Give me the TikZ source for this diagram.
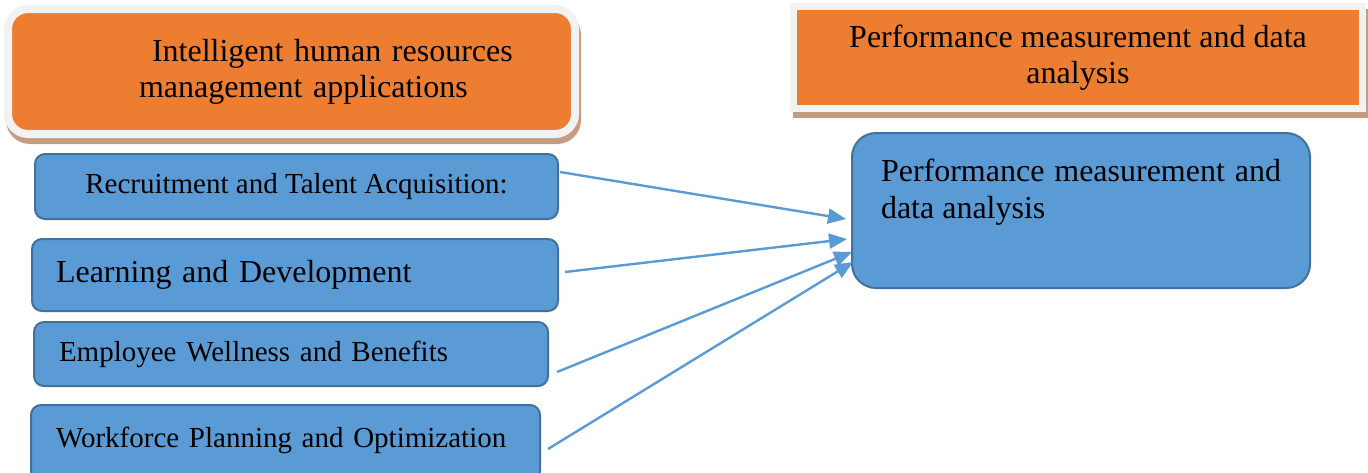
\documentclass[tikz,border=0pt]{standalone}
\usepackage{fontspec}
\setmainfont{Liberation Serif}
\usetikzlibrary{positioning,arrows.meta}
\definecolor{hrorange}{HTML}{ED7D31}
\definecolor{hrblue}{HTML}{5B9BD5}
\definecolor{hrblueline}{HTML}{41719C}
\definecolor{framegray}{HTML}{F2F2F2}
\definecolor{shadowbrown}{HTML}{C49C82}

\begin{document}
\begin{tikzpicture}[x=0.5pt, y=-0.5pt,
% Header styles
		headround/.style={rectangle
							    , rounded corners=10pt
							    , fill=hrorange
							    , draw=framegray, line width=4pt
							    , outer sep=0pt
							    , preaction={draw=shadowbrown, fill=shadowbrown, transform canvas={shift={(1pt,-3pt)}}}
							    , font=\fontsize{16}{18}\selectfont
							    , anchor=north west},
		headsquare/.style={rectangle
							    , fill=hrorange
							    , draw=framegray, line width=3.5pt
							    , outer sep=0pt
							    , preaction={draw=shadowbrown, fill=shadowbrown, transform canvas={shift={(1.5pt,-3pt)}}}
							    , font=\fontsize{16}{18}\selectfont
							    , align=center
							    , anchor=north west},
% Item style
		item/.style={rectangle
							    , rounded corners=5pt
							    , fill=hrblue
							    , draw=hrblueline, line width=1pt
							    , outer sep=0pt
							    , anchor=north west},
		small/.style={font=\fontsize{14.5}{17}\selectfont},
		large/.style={font=\fontsize{16}{18.5}\selectfont},
% Connector style
		links/.style = {draw=hrblue
			       			, line width=1.2pt
			       			, >={Triangle[length=9pt,width=7.5pt]}}
	]
	\useasboundingbox (0,0) rectangle (1368,472);
	\clip (0,0) rectangle (1368,472);
%% Draw headers
	\node (h1) [headround, minimum width=283.5pt, minimum height=62.5pt
	            , text width=283.5pt, inner xsep=0pt, align=left] at (8,9)
	      {\hspace*{72pt}Intelligent human resources\\\hspace*{65.5pt}management applications};
	\node (h2) [headsquare, minimum width=284.5pt, minimum height=51pt] at (793.5,6.5)
	      {Performance measurement and data\\analysis};
%% Draw items
	\node (c1) [item, small, minimum width=261.5pt, minimum height=32.5pt] at (35,154)
	      {Recruitment and Talent Acquisition:};
	\node (c2) [item, large, text width=239pt, inner xsep=12pt, align=left, minimum height=36pt] at (32,239)
	      {Learning and Development};
	\node (c3) [item, small, text width=232pt, inner xsep=12.5pt, align=left, minimum height=32pt] at (34,322)
	      {Employee Wellness and Benefits};
	\node (c4) [item, small, text width=229.5pt, inner xsep=12.5pt, align=left, minimum height=38pt
	            , text height=11pt, text depth=7pt] at (31,405)
	      {Workforce Planning and Optimization};
	\node (r1) [item, large, rounded corners=12pt, text width=200pt, inner xsep=14.5pt, inner ysep=10pt
	            , text height=14pt, text depth=43.5pt, align=justify] at (852,133)
	      {Performance measurement and data analysis};
%% Draw connectors
	\begin{scope}[links]
		\draw [->] ([shift={(2,-14.5)}]c1.east) -- ([shift={(-6,8.5)}]r1.west);
		\draw [->] ([shift={(7,-3)}]c2.east) -- ([shift={(-5,28.5)}]r1.west);
		\draw [->] ([shift={(9,18)}]c3.east) -- ([shift={(0,41.5)}]r1.west);
		\draw [->] ([shift={(8,6)}]c4.east) -- ([shift={(1,51.5)}]r1.west);
	\end{scope}
\end{tikzpicture}
\end{document}
